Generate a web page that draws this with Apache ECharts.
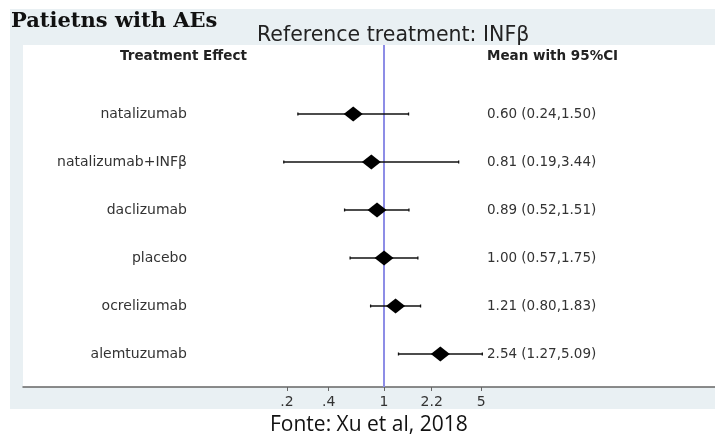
<!DOCTYPE html>
<html><head><meta charset="utf-8">
<script src="https://cdn.jsdelivr.net/npm/echarts@6/dist/echarts.min.js"></script>
<style>html,body{margin:0;padding:0;background:#fff}#c{width:715px;height:436px}</style>
</head><body><div id="c"></div>
<script>
const categories = ['natalizumab','natalizumab+INFβ','daclizumab','placebo','ocrelizumab','alemtuzumab'];
const means = [0.60, 0.81, 0.89, 1.00, 1.21, 2.54];
const lower = [0.24, 0.19, 0.52, 0.57, 0.80, 1.27];
const upper = [1.50, 3.44, 1.51, 1.75, 1.83, 5.09];
const tickValues = [0.2, 0.4, 1, 2.2, 5];
const tickLabels = ['.2', '.4', '1', '2.2', '5'];
const referenceValue = 1;

const rowIdx = categories.map((c, i) => i);
const ciText = means.map((m, i) => m.toFixed(2) + ' (' + lower[i].toFixed(2) + ',' + upper[i].toFixed(2) + ')');

const chart = echarts.init(document.getElementById('c'), null, {renderer: 'canvas'});
const yMin = -1.4375, yMax = 5.6875;
const option = {
  backgroundColor: '#ffffff',
  animation: false,
  graphic: [
    {type: 'rect', left: 10, top: 9, shape: {width: 705, height: 400}, style: {fill: '#e9f0f3'}, z: -10, silent: true}
  ],
  title: [
    {text: 'Patietns with AEs', left: 6, top: 6, textStyle: {fontFamily: 'DejaVu Serif', fontWeight: 'bold', fontSize: 21, color: '#111'}},
    {text: 'Reference treatment: INFβ', left: 252, top: 20, textStyle: {fontFamily: 'DejaVu Sans', fontWeight: 'normal', fontSize: 20.5, color: '#222'}},
    {text: 'Treatment Effect', left: 115, top: 44, textStyle: {fontFamily: 'DejaVu Sans', fontWeight: 'bold', fontSize: 13.5, color: '#222'}},
    {text: 'Mean with 95%CI', left: 482, top: 44, textStyle: {fontFamily: 'DejaVu Sans', fontWeight: 'bold', fontSize: 13.5, color: '#222'}},
    {text: 'Fonte: Xu et al, 2018', left: 265, top: 410, textStyle: {fontFamily: 'Open Sans', fontWeight: 'normal', fontSize: 21, color: '#111'}}
  ],
  grid: {left: 23, right: 0, top: 45, bottom: 49, show: true, backgroundColor: '#ffffff', borderWidth: 0},
  xAxis: {
    type: 'log', logBase: 10, min: 0.00253, max: 240,
    axisLine: {show: true, onZero: false, lineStyle: {color: '#666', width: 1.5}},
    axisTick: {show: true, length: 4, customValues: tickValues, lineStyle: {color: '#666'}},
    axisLabel: {show: true, customValues: tickValues, margin: 8, fontFamily: 'DejaVu Sans', fontSize: 14, color: '#333',
      formatter: v => { const k = tickValues.findIndex(t => Math.abs(t - v) < 1e-6); return k >= 0 ? tickLabels[k] : ''; }},
    splitLine: {show: false}, minorTick: {show: false}
  },
  yAxis: [
    {type: 'value', inverse: true, min: yMin, max: yMax, position: 'left',
     axisLine: {show: false}, axisTick: {show: false}, splitLine: {show: false},
     axisLabel: {customValues: rowIdx, margin: -164, fontFamily: 'DejaVu Sans', fontSize: 14, color: '#333',
       formatter: v => categories[Math.round(v)] || ''}},
    {type: 'value', inverse: true, min: yMin, max: yMax, position: 'right',
     axisLine: {show: false}, axisTick: {show: false}, splitLine: {show: false},
     axisLabel: {customValues: rowIdx, margin: -228, align: 'left', fontFamily: 'DejaVu Sans', fontSize: 13.5, color: '#333',
       formatter: v => ciText[Math.round(v)] || ''}}
  ],
  series: [
    {
      type: 'custom', yAxisIndex: 0,
      data: rowIdx.map(i => [lower[i], upper[i], i]),
      encode: {x: [0, 1], y: 2},
      renderItem: (params, api) => {
        const a = api.coord([api.value(0), api.value(2)]);
        const b = api.coord([api.value(1), api.value(2)]);
        const st = {stroke: '#111', lineWidth: 1.3};
        return {type: 'group', children: [
          {type: 'line', shape: {x1: a[0], y1: a[1], x2: b[0], y2: b[1]}, style: st},
          {type: 'line', shape: {x1: a[0], y1: a[1] - 1.5, x2: a[0], y2: a[1] + 1.5}, style: st},
          {type: 'line', shape: {x1: b[0], y1: b[1] - 1.5, x2: b[0], y2: b[1] + 1.5}, style: st}
        ]};
      },
      z: 2
    },
    {
      type: 'scatter', yAxisIndex: 0,
      data: rowIdx.map(i => [means[i], i]),
      symbol: 'diamond', symbolSize: [19, 15],
      itemStyle: {color: '#000', opacity: 1},
      z: 3,
      markLine: {
        silent: true, symbol: 'none', label: {show: false},
        lineStyle: {color: '#8d8de6', width: 2, type: 'solid'},
        data: [{xAxis: referenceValue}],
        z: 1
      }
    }
  ]
};
chart.setOption(option);
</script></body></html>
